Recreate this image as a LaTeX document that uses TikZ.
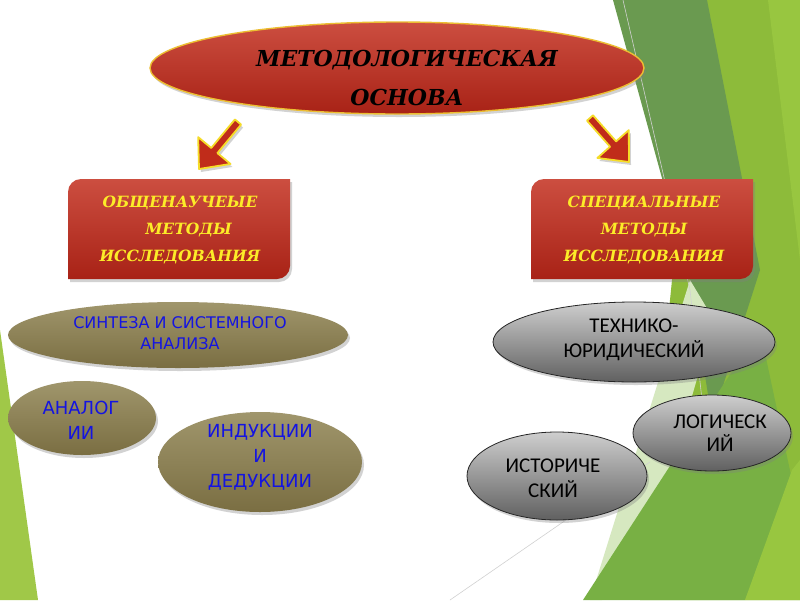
\documentclass[tikz,border=0pt]{standalone}
\usepackage{fontspec}
\usetikzlibrary{shapes.geometric,shadows,calc}
\newfontfamily\titlefont{DejaVu Serif}
\newfontfamily\boxfont{DejaVu Serif}
\newfontfamily\olivefont{DejaVu Sans}
\newfontfamily\greyfont{Carlito}
\definecolor{gdark}{RGB}{106,154,80}
\definecolor{gbright}{RGB}{141,187,58}
\definecolor{gbright2}{RGB}{152,198,64}
\definecolor{gmed}{RGB}{120,176,68}
\definecolor{gpale}{RGB}{214,232,192}
\definecolor{gleft}{RGB}{160,200,72}
\definecolor{redtop}{RGB}{204,78,64}
\definecolor{redbot}{RGB}{168,34,22}
\definecolor{gold}{RGB}{236,190,50}
\definecolor{arrowred}{RGB}{192,44,26}
\definecolor{arrowyellow}{RGB}{245,220,40}
\definecolor{txtyellow}{RGB}{252,236,40}
\definecolor{olivetop}{RGB}{160,150,108}
\definecolor{olivebot}{RGB}{122,110,66}
\definecolor{txtblue}{RGB}{20,20,225}
\definecolor{greytop}{RGB}{206,206,206}
\definecolor{greybot}{RGB}{96,96,96}
\newcommand\blockarrow[2]{%
  \coordinate (ba-b) at ($(#2)!24pt!(#1)$);
  \filldraw[arrowstyle]
    ($(#1)!4pt!90:(#2)$) -- ($(ba-b)!4pt!90:(#2)$) -- ($(ba-b)!21pt!90:(#2)$) -- (#2)
    -- ($(ba-b)!21pt!-90:(#2)$) -- ($(ba-b)!4pt!-90:(#2)$) -- ($(#1)!4pt!-90:(#2)$) -- cycle;}
\begin{document}
\begin{tikzpicture}[x=1pt,y=-1pt,
  shadowed/.style={drop shadow={opacity=0.35,shadow xshift=2pt,shadow yshift=-3pt}},
  arrowstyle/.style={fill=arrowred,draw=arrowyellow,line width=1.8pt,line join=round,shadowed},
  redbox/.style={top color=redtop,bottom color=redbot,shadowed},
  boxtext/.style={font=\boxfont\bfseries\itshape\fontsize{15.5}{27}\selectfont,text=txtyellow,align=center},
  oliveell/.style={ellipse,inner sep=0pt,top color=olivetop,bottom color=olivebot,shadowed},
  olivetext/.style={text=txtblue,align=center},
  greyell/.style={ellipse,inner sep=0pt,top color=greytop,bottom color=greybot,draw=black!85,line width=0.8pt,shadowed},
  greytext/.style={font=\greyfont\fontsize{21}{25}\selectfont,text=black,align=center},
  faint/.style={draw=black!18,line width=0.6pt}]
\useasboundingbox (0,0) rectangle (800,600);
\fill[white] (0,0) rectangle (800,600);
% background decoration
\fill[gbright] (700,0) -- (800,0) -- (800,600) -- (640,600) -- cycle;
\fill[gbright2] (768,0) -- (800,0) -- (800,260) -- cycle;
\fill[gdark] (613,0) -- (707,0) -- (760,270) -- (712,420) -- (690,280) -- cycle;
\fill[gpale] (690,280) -- (714,320) -- (662,500) -- (602,600) -- (590,600) -- cycle;
\fill[gmed] (583,600) -- (705,412) -- (760,330) -- (792,480) -- (745,600) -- cycle;
\fill[gbright2] (792,470) -- (800,460) -- (800,600) -- (745,600) -- cycle;
\fill[gleft] (0,330) -- (38,600) -- (0,600) -- cycle;
\draw[faint] (623,0) -- (690,290) -- (702,400);
\draw[faint] (650,462) -- (450,600);
% title
\node[ellipse,inner sep=0pt,minimum width=494pt,minimum height=92pt,
  top color=redtop,bottom color=redbot,draw=gold,line width=1.4pt,shadowed] (base) at (397,68) {};
\node[font=\titlefont\bfseries\itshape\fontsize{22}{39}\selectfont,align=center] (baset) at (407,78)
  {МЕТОДОЛОГИЧЕСКАЯ\\ОСНОВА};
% arrows
\coordinate (lt) at (238,122); \coordinate (lh) at (199,169);
\coordinate (rt) at (590,118); \coordinate (rh) at (629,162);
\blockarrow{lt}{lh}
\blockarrow{rt}{rh}
% boxes
\path[redbox] (68,279) -- (68,229) [rounded corners=13pt] -- (68,179) -- (179,179) [sharp corners]
  -- (290,179) -- (290,229) [rounded corners=13pt] -- (290,279) -- (179,279) [sharp corners] -- cycle;
\node[boxtext] (gen) at (180,230) {ОБЩЕНАУЧЕЫЕ\\\hspace*{1.1em}МЕТОДЫ\\ИССЛЕДОВАНИЯ};
\path[redbox] (531,279) -- (531,229) [rounded corners=13pt] -- (531,179) -- (642,179) [sharp corners]
  -- (753,179) -- (753,229) [rounded corners=13pt] -- (753,279) -- (642,279) [sharp corners] -- cycle;
\node[boxtext] (spec) at (644,230) {СПЕЦИАЛЬНЫЕ\\МЕТОДЫ\\ИССЛЕДОВАНИЯ};
% olive ellipses
\node[oliveell,minimum width=340pt,minimum height=66pt] (synth) at (178,335) {};
\node[olivetext,font=\olivefont\fontsize{16}{21}\selectfont] (synt) at (180,333) {СИНТЕЗА И СИСТЕМНОГО\\АНАЛИЗА};
\node[oliveell,minimum width=148pt,minimum height=74pt] (anal) at (82,418) {};
\node[olivetext,font=\olivefont\fontsize{18}{25}\selectfont] (analt) at (81,420) {АНАЛОГ\\ИИ};
\node[oliveell,minimum width=204pt,minimum height=100pt] (ind) at (260,462) {};
\node[olivetext,font=\olivefont\fontsize{18}{25}\selectfont] (indt) at (260,457) {ИНДУКЦИИ\\И\\ДЕДУКЦИИ};
% grey ellipses
\node[greyell,minimum width=282pt,minimum height=80pt] (tech) at (634,342) {};
\node[greytext] (techt) at (634,340) {ТЕХНИКО-\\ЮРИДИЧЕСКИЙ};
\node[greyell,minimum width=158pt,minimum height=76pt] (log) at (712,433) {};
\node[greytext,font=\greyfont\fontsize{21}{23}\selectfont] (logt) at (720,433) {ЛОГИЧЕСК\\ИЙ};
\node[greyell,minimum width=180pt,minimum height=88pt] (hist) at (557,476) {};
\node[greytext] (histt) at (553,478) {ИСТОРИЧЕ\\СКИЙ};
\end{tikzpicture}
\end{document}
